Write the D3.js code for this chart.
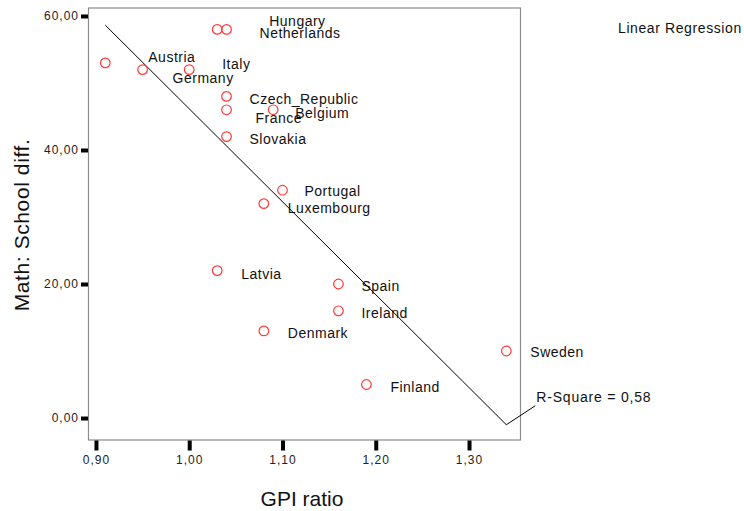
<!DOCTYPE html>
<html>
<head>
<meta charset="utf-8">
<script src="https://cdn.jsdelivr.net/npm/d3@7"></script>
<style>
  html, body { margin: 0; padding: 0; background: #fff; }
  svg { display: block; font-family: "Liberation Sans", Arial, sans-serif; }
</style>
</head>
<body>
<svg id="chart" width="744" height="511"></svg>
<script>
// Countries and their values: GPI ratio (x) vs. math school difference (y)
const countries = ["Austria", "Germany", "Italy", "Hungary", "Netherlands", "Czech_Republic",
  "France", "Belgium", "Slovakia", "Portugal", "Luxembourg", "Latvia", "Spain", "Ireland",
  "Denmark", "Sweden", "Finland"];
const gpiRatio = [0.91, 0.95, 1.00, 1.03, 1.04, 1.04, 1.04, 1.09, 1.04, 1.10, 1.08, 1.03,
  1.16, 1.16, 1.08, 1.34, 1.19];
const schoolDiff = [53, 52, 52, 58, 58, 48, 46, 46, 42, 34, 32, 22, 20, 16, 13, 10, 5];
const xTicks = [0.9, 1.0, 1.1, 1.2, 1.3];
const yTicks = [0, 20, 40, 60];

// Label placement (pixel offsets from each marker)
const labelOffsets = {
  Austria: [43, -6], Germany: [30, 8], Italy: [33, -6], Hungary: [52, -8],
  Netherlands: [33, 4], Czech_Republic: [23, 3], France: [29, 8], Belgium: [22, 3],
  Slovakia: [23, 2], Portugal: [22, 1], Luxembourg: [24, 4], Latvia: [24, 3],
  Spain: [23, 2], Ireland: [23, 2], Denmark: [24, 2], Sweden: [24, 1], Finland: [24, 2]
};

const svg = d3.select("#chart");
const L = 88.5, R = 520.5, T = 8, B = 440;

const x = d3.scaleLinear().domain([0.892, 1.3552]).range([L, R]);
const y = d3.scaleLinear().domain([-3.28, 61.19]).range([B, T]);

const comma = d3.formatLocale({ decimal: ",", thousands: ".", grouping: [3], currency: ["", ""] });
const fmt = comma.format(".2f");

// Plot frame
svg.append("rect")
  .attr("x", L).attr("y", T).attr("width", R - L).attr("height", B - T)
  .attr("fill", "none").attr("stroke", "#8c8c8c").attr("stroke-width", 1.2);

// Axes
const yAxis = svg.append("g")
  .attr("transform", `translate(${L - 0.5},0)`)
  .call(d3.axisLeft(y).tickValues(yTicks).tickFormat(fmt).tickSize(7).tickSizeOuter(0).tickPadding(2));
const xAxis = svg.append("g")
  .attr("transform", `translate(0,${B + 0.5})`)
  .call(d3.axisBottom(x).tickValues(xTicks).tickFormat(fmt).tickSize(10).tickSizeOuter(0).tickPadding(5));

[yAxis, xAxis].forEach(g => {
  g.select(".domain").remove();
  g.selectAll(".tick line").attr("stroke", "#000").attr("stroke-width", 4);
  g.selectAll(".tick text")
    .attr("fill", "#222")
    .style("font-size", "12px")
    .style("letter-spacing", "1px")
    .style("font-family", "'Liberation Sans', Arial, sans-serif");
});

// Least-squares regression line
const n = gpiRatio.length;
const mx = d3.mean(gpiRatio), my = d3.mean(schoolDiff);
let sxy = 0, sxx = 0, syy = 0;
for (let i = 0; i < n; i++) {
  const dx = gpiRatio[i] - mx, dy = schoolDiff[i] - my;
  sxy += dx * dy; sxx += dx * dx; syy += dy * dy;
}
const slope = sxy / sxx;
const intercept = my - slope * mx;
const r2 = (sxy * sxy) / (sxx * syy);
const x0 = d3.min(gpiRatio), x1 = d3.max(gpiRatio);

svg.append("line")
  .attr("x1", x(x0)).attr("y1", y(intercept + slope * x0))
  .attr("x2", x(x1)).attr("y2", y(intercept + slope * x1))
  .attr("stroke", "#000").attr("stroke-width", 1);

// Leader line and R-Square annotation
const ex = x(x1), ey = y(intercept + slope * x1);
svg.append("line")
  .attr("x1", ex).attr("y1", ey).attr("x2", ex + 29).attr("y2", ey - 19)
  .attr("stroke", "#000").attr("stroke-width", 1);
svg.append("text")
  .attr("x", ex + 30).attr("y", ey - 28)
  .attr("dominant-baseline", "central")
  .style("font-size", "14px").style("letter-spacing", "0.8px")
  .attr("fill", "#111")
  .text("R-Square = " + comma.format(".2f")(r2));

// Markers
svg.append("g").selectAll("circle")
  .data(countries)
  .join("circle")
  .attr("cx", (d, i) => x(gpiRatio[i]))
  .attr("cy", (d, i) => y(schoolDiff[i]))
  .attr("r", 4.8)
  .attr("fill", "none")
  .attr("stroke", "#ff3b3b")
  .attr("stroke-width", 1.2);

// Country labels
svg.append("g").selectAll("text")
  .data(countries)
  .join("text")
  .attr("x", (d, i) => x(gpiRatio[i]) + labelOffsets[d][0])
  .attr("y", (d, i) => y(schoolDiff[i]) + labelOffsets[d][1])
  .attr("dominant-baseline", "central")
  .style("font-size", "14px")
  .style("letter-spacing", "0.5px")
  .attr("fill", "#111")
  .text(d => d);

// Axis titles
svg.append("text")
  .attr("transform", "translate(29,225) rotate(-90)")
  .attr("text-anchor", "middle")
  .style("font-size", "21px").style("letter-spacing", "0.6px")
  .attr("fill", "#111")
  .text("Math: School diff.");
svg.append("text")
  .attr("x", 302).attr("y", 506)
  .attr("text-anchor", "middle")
  .style("font-size", "21px")
  .attr("fill", "#111")
  .text("GPI ratio");

// Fit method caption
svg.append("text")
  .attr("x", 618).attr("y", 28)
  .attr("dominant-baseline", "central")
  .style("font-size", "14px").style("letter-spacing", "0.6px")
  .attr("fill", "#111")
  .text("Linear Regression");
</script>
</body>
</html>
